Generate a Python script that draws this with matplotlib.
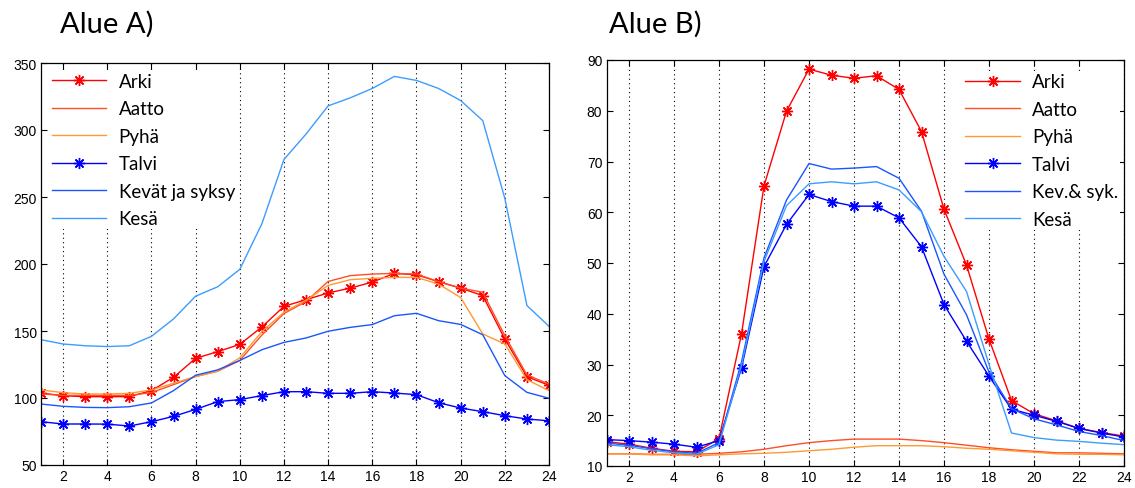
import numpy as np
import matplotlib
matplotlib.use("Agg")
import matplotlib.pyplot as plt

hours = np.arange(1, 25)

# Alue A)
a_arki = [103.7, 101.7, 101, 101, 101, 105.5, 115.4, 129.6, 134.6, 140, 153, 168.4,
          173.4, 178.4, 182, 186.5, 193, 192, 186.8, 182, 176.4, 144, 115.9, 109.5]
a_aatto = [103, 102, 102, 102, 102, 104, 110, 116, 120, 128, 147, 163,
           172, 187, 191.3, 192.5, 193, 192.5, 186.8, 182, 178.9, 146.5, 117.2, 110.4]
a_pyha = [106, 104, 103, 103, 103.5, 106, 111, 116, 120, 130, 149.5, 164,
          173, 184, 188.3, 189.3, 190, 190, 185, 175, 147.8, 140.3, 113.7, 105.5]
a_talvi = [82.3, 80.6, 80.6, 80.5, 79.1, 82.3, 86.3, 91.5, 97.3, 98.8, 101.8, 104.7,
           104.7, 103.5, 103.5, 104.7, 103.7, 102.5, 96.5, 92.5, 89.8, 86.8, 84.3, 83]
a_kevat = [95.5, 93.8, 93, 92.8, 93.5, 96.3, 105.5, 117, 121, 128, 136, 141.5,
           144.8, 149.8, 152.7, 154.8, 161.4, 163.2, 157.7, 154.9, 147.2, 116.7, 104.2, 99.8]
a_kesa = [143.5, 140.3, 139, 138.4, 139, 146, 159, 176, 183, 196, 230, 278,
          297, 318, 324, 331, 340, 337, 331, 322, 307, 249, 169, 153.5]

# Alue B)
b_arki = [14.8, 14.3, 13.5, 12.9, 12.8, 15.4, 36.0, 65.2, 79.9, 88.2, 87.0, 86.4,
          86.9, 84.2, 75.9, 60.6, 49.6, 35.0, 22.9, 20.3, 18.9, 17.4, 16.6, 15.9]
b_aatto = [12.4, 12.4, 12.3, 12.3, 12.3, 12.5, 12.8, 13.3, 14.0, 14.6, 15.0, 15.3,
           15.3, 15.3, 15.0, 14.6, 14.1, 13.6, 13.2, 12.9, 12.6, 12.6, 12.5, 12.4]
b_pyha = [12.4, 12.4, 12.2, 12.2, 12.0, 12.2, 12.4, 12.5, 12.7, 13.0, 13.3, 13.7,
          14.0, 14.0, 14.0, 13.8, 13.5, 13.3, 13.0, 12.7, 12.4, 12.3, 12.3, 12.2]
b_talvi = [15.2, 15.0, 14.7, 14.3, 13.7, 15.0, 29.3, 49.3, 57.6, 63.5, 62.1, 61.2,
           61.2, 58.9, 53.2, 41.8, 34.6, 27.7, 21.2, 20.0, 18.8, 17.4, 16.5, 15.7]
b_kevat = [14.5, 14.1, 13.4, 12.8, 12.5, 14.6, 30.5, 51.0, 62.4, 69.6, 68.5, 68.7,
           69.0, 66.7, 60.2, 47.8, 39.8, 28.5, 21.3, 19.3, 18.1, 16.8, 16.0, 15.0]
b_kesa = [14.2, 13.8, 13.1, 12.6, 12.3, 14.2, 29.8, 50.3, 61.3, 65.6, 66.0, 65.6,
          66.0, 64.4, 60.1, 51.3, 44.4, 30.0, 16.5, 15.6, 15.1, 14.85, 14.5, 14.2]

labels_a = ["Arki", "Aatto", "Pyhä", "Talvi", "Kevät ja syksy", "Kesä"]
labels_b = ["Arki", "Aatto", "Pyhä", "Talvi", "Kev.& syk.", "Kesä"]
colors = ["#ff0000", "#ff4d26", "#ff9933", "#0000ff", "#1a55ff", "#3d9cff"]
markers = [(8, 2, 0), None, None, (8, 2, 0), None, None]

plt.rcParams["font.family"] = ["Liberation Sans", "DejaVu Sans"]

fig = plt.figure(figsize=(11.35, 4.89), dpi=100)
ax1 = fig.add_axes([41 / 1135, 23 / 489, 508 / 1135, 402 / 489])
ax2 = fig.add_axes([606.5 / 1135, 22 / 489, 517.5 / 1135, 406 / 489])


def draw(ax, series, labels, ylim, yticks, leg_xy):
    for ys, lab, c, m in zip(series, labels, colors, markers):
        ax.plot(hours, ys, color=c, lw=1.0, marker=m, markersize=8,
                markeredgewidth=1.0, label=lab)
    ax.set_xlim(1, 24)
    ax.set_ylim(*ylim)
    ax.set_xticks(range(2, 25, 2))
    ax.set_yticks(yticks)
    ax.grid(axis="x", color="black", lw=0.8, linestyle=(0, (1, 3)))
    ax.tick_params(direction="in", top=True, right=True, length=4,
                   labelsize=10, pad=3, width=0.8)
    for s in ax.spines.values():
        s.set_linewidth(0.9)
    leg = ax.legend(loc="upper left", bbox_to_anchor=leg_xy, frameon=True,
                    fancybox=False, edgecolor="none", facecolor="white",
                    framealpha=1, borderpad=0.1, borderaxespad=0,
                    handlelength=2.9, handletextpad=0.65, labelspacing=0.56,
                    prop={"family": "Lato", "size": 13.5})
    leg.get_frame().set_linewidth(0)


draw(ax1, [a_arki, a_aatto, a_pyha, a_talvi, a_kevat, a_kesa], labels_a,
     (50, 350), range(50, 351, 50), (0.018, 0.98))
draw(ax2, [b_arki, b_aatto, b_pyha, b_talvi, b_kevat, b_kesa], labels_b,
     (10, 90), range(10, 91, 10), (0.69, 0.972))

fig.text(60 / 1135, 1 - 33 / 489, "Alue A)", family="Lato", fontsize=21)
fig.text(609 / 1135, 1 - 33 / 489, "Alue B)", family="Lato", fontsize=21)

fig.savefig("out.png", dpi=100)
